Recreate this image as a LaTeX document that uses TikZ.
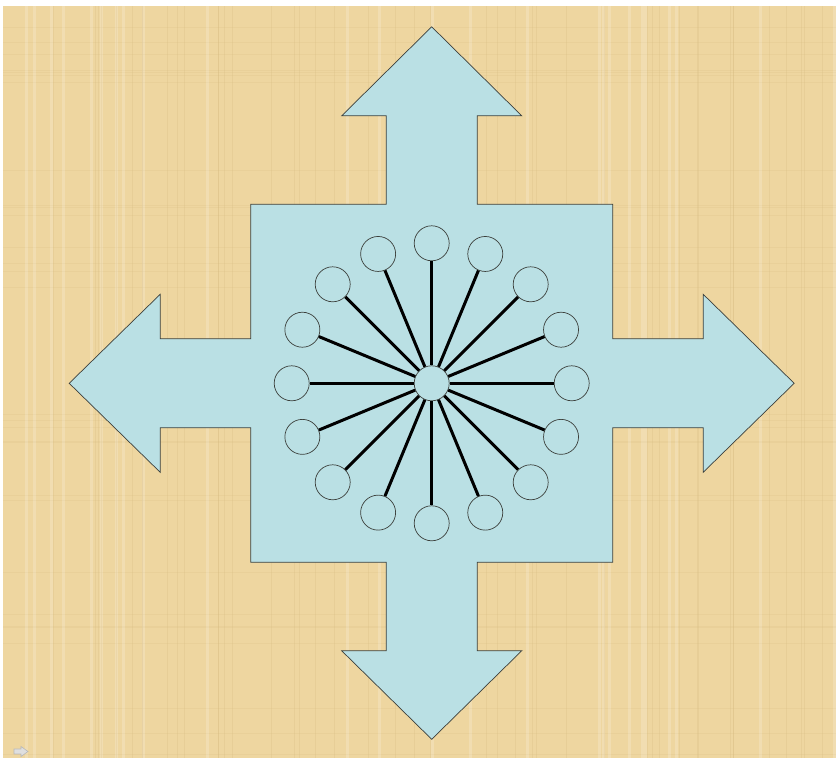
\documentclass[tikz,border=0pt]{standalone}
\usetikzlibrary{arrows.meta}
\definecolor{papyrus}{RGB}{238,214,160}
\definecolor{fibre}{RGB}{214,186,125}
\definecolor{paleblue}{RGB}{186,224,228}
\definecolor{edgegray}{RGB}{60,64,60}

\begin{document}
\begin{tikzpicture}[x=1bp,y=1bp,
  cross/.style={fill=paleblue,draw=edgegray,line width=.7bp,line join=miter},
  hub/.style={circle,draw=edgegray,line width=.7bp,fill=paleblue,
    minimum size=35bp,inner sep=0pt},
  leaf/.style={hub},
  spoke/.style={draw=black,line width=3bp},
  grain/.style={draw=fibre,line width=1bp,opacity=.25},
  sheen/.style={draw=white,line width=3bp,opacity=.18},
  navicon/.style={fill=gray!25,draw=gray!55,line width=.6bp}
]
\useasboundingbox (0,0) rectangle (836,758);
\fill[white] (0,0) rectangle (836,758);
\fill[papyrus] (3,0) rectangle (836,752);
% papyrus grain
\pgfmathsetseed{7}
\foreach \k in {1,...,45} {
  \pgfmathsetmacro{\gx}{3+833*rnd}
  \draw[grain] (\gx,0) -- (\gx,752);
}
\foreach \k in {1,...,30} {
  \pgfmathsetmacro{\gy}{752*rnd}
  \draw[grain,opacity=.18] (3,\gy) -- (836,\gy);
}
\foreach \k in {1,...,25} {
  \pgfmathsetmacro{\gx}{3+833*rnd}
  \draw[sheen] (\gx,0) -- (\gx,752);
}
% four-way arrow
\begin{scope}[shift={(431.7,374.7)}]
\draw[cross] (0,356.5) -- (90,267.5) -- (45.5,267.5) -- (45.5,179)
  -- (181,179) -- (181,44.5) -- (271.5,44.5) -- (271.5,89) -- (362.5,0)
  -- (271.5,-89) -- (271.5,-44.5) -- (181,-44.5) -- (181,-179)
  -- (45.5,-179) -- (45.5,-267.5) -- (90,-267.5) -- (0,-356)
  -- (-90,-267.5) -- (-45.5,-267.5) -- (-45.5,-179) -- (-181,-179)
  -- (-181,-44.5) -- (-271.5,-44.5) -- (-271.5,-89) -- (-362.5,0)
  -- (-271.5,89) -- (-271.5,44.5) -- (-181,44.5) -- (-181,179)
  -- (-45.5,179) -- (-45.5,267.5) -- (-90,267.5) -- cycle;
\node[hub] (center) at (0,0) {};
\foreach \i in {0,...,15}
  \node[leaf] (leaf\i) at (\i*22.5:140) {};
\foreach \i in {0,...,15}
  \draw[spoke] (center) -- (leaf\i);
\end{scope}
% slide navigation mark
\draw[navicon] (14,4) -- (21,4) -- (21,1.5) -- (28,6.5) -- (21,11.5)
  -- (21,9) -- (14,9) -- cycle;
\end{tikzpicture}
\end{document}
